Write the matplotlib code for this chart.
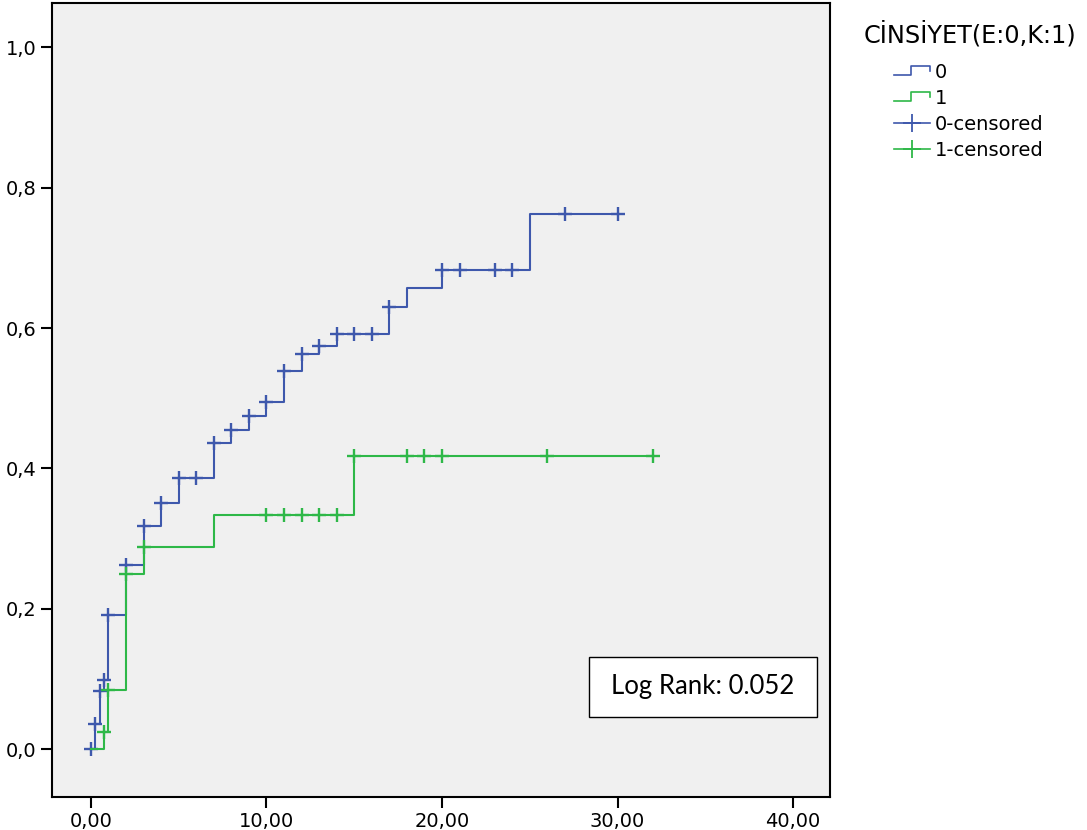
import numpy as np
import matplotlib
matplotlib.use("Agg")
import matplotlib.pyplot as plt
from matplotlib.lines import Line2D
from matplotlib.patches import Rectangle
from matplotlib.legend_handler import HandlerBase

plt.rcParams["font.family"] = ["DejaVu Sans"]

# cumulative event curves, group 0 (E) and group 1 (K)
t_0 = [0, 0.25, 0.5, 0.75, 1, 2, 3, 4, 5, 7, 8, 9, 10, 11, 12, 13, 14, 17, 18, 20, 25]
cum_0 = [0.0, 0.036, 0.083, 0.099, 0.191, 0.262, 0.318, 0.351, 0.386, 0.436, 0.455,
         0.474, 0.495, 0.539, 0.563, 0.575, 0.591, 0.630, 0.657, 0.683, 0.763]
end_0 = 30
cens_0 = [0, 0.25, 0.5, 0.75, 1, 2, 3, 4, 5, 6, 7, 8, 9, 10, 11, 12, 13, 14, 15, 16,
          17, 20, 21, 23, 24, 27, 30]

t_1 = [0, 0.75, 1, 2, 3, 7, 15]
cum_1 = [0.0, 0.025, 0.084, 0.249, 0.288, 0.333, 0.417]
end_1 = 32
cens_1 = [0.75, 1, 2, 3, 10, 11, 12, 13, 14, 15, 18, 19, 20, 26, 32]

x_ticks = [0, 10, 20, 30, 40]
y_ticks = [0.0, 0.2, 0.4, 0.6, 0.8, 1.0]
log_rank = "Log Rank: 0.052"

BLUE = "#3E58AC"
GREEN = "#2EB848"


def value_at(times, vals, t):
    idx = np.searchsorted(times, t, side="right") - 1
    return np.asarray(vals)[idx]


class StepHandler(HandlerBase):
    def create_artists(self, legend, orig_handle, xdescent, ydescent,
                       width, height, fontsize, trans):
        xs = np.array([0, 0.48, 0.48, 1.0, 1.0]) * width - xdescent
        ys = np.array([0.2, 0.2, 0.85, 0.85, 0.55]) * height - ydescent
        ln = Line2D(xs, ys, color=orig_handle.get_color(), lw=1.2, transform=trans)
        return [ln]


fig = plt.figure(figsize=(10.87, 8.30), dpi=100)
ax = fig.add_axes([0.0478, 0.0398, 0.7158, 0.9566])
ax.set_facecolor("#F0F0F0")

for times, vals, end, cens, col in [(t_0, cum_0, end_0, cens_0, BLUE),
                                    (t_1, cum_1, end_1, cens_1, GREEN)]:
    ax.step(list(times) + [end], list(vals) + [vals[-1]], where="post",
            color=col, lw=1.5)
    ax.plot(cens, value_at(times, vals, cens), linestyle="none", marker="+",
            markersize=10, markeredgewidth=1.7, color=col)

ax.set_xlim(-2.22, 42.1)
ax.set_ylim(-0.068, 1.063)
ax.set_xticks(x_ticks)
ax.set_xticklabels([f"{v:.2f}".replace(".", ",") for v in x_ticks])
ax.set_yticks(y_ticks)
ax.set_yticklabels([f"{v:.1f}".replace(".", ",") for v in y_ticks])
ax.tick_params(direction="out", length=8, width=1.5, labelsize=14, pad=3)
for sp in ax.spines.values():
    sp.set_linewidth(1.5)

# log rank box
ax.add_patch(Rectangle((0.690, 0.1008), 0.293, 0.0756, transform=ax.transAxes,
                       facecolor="white", edgecolor="black", lw=1.0, zorder=5))
ax.text(0.8365, 0.1386, log_rank, transform=ax.transAxes, ha="center", va="center",
        fontsize=18.5, family="Lato", zorder=6)

# legend
fig.text(864 / 1087, 1 - 34 / 830, "CİNSİYET(E:0,K:1)", ha="left", va="center",
         fontsize=17.3)
h0 = Line2D([], [], color=BLUE)
h1 = Line2D([], [], color=GREEN)
h2 = Line2D([], [], color=BLUE, lw=1.2, marker="+", markersize=13, markeredgewidth=1.3)
h3 = Line2D([], [], color=GREEN, lw=1.2, marker="+", markersize=13, markeredgewidth=1.3)
fig.legend([h0, h1, h2, h3], ["0", "1", "0-censored", "1-censored"],
           handler_map={h0: StepHandler(), h1: StepHandler()},
           loc="upper left", bbox_to_anchor=(894 / 1087, 1 - 63 / 830),
           frameon=False, fontsize=14, borderpad=0, borderaxespad=0,
           handlelength=1.85, handletextpad=0.25, labelspacing=0.36, numpoints=1)

fig.savefig("out.png", dpi=100)
